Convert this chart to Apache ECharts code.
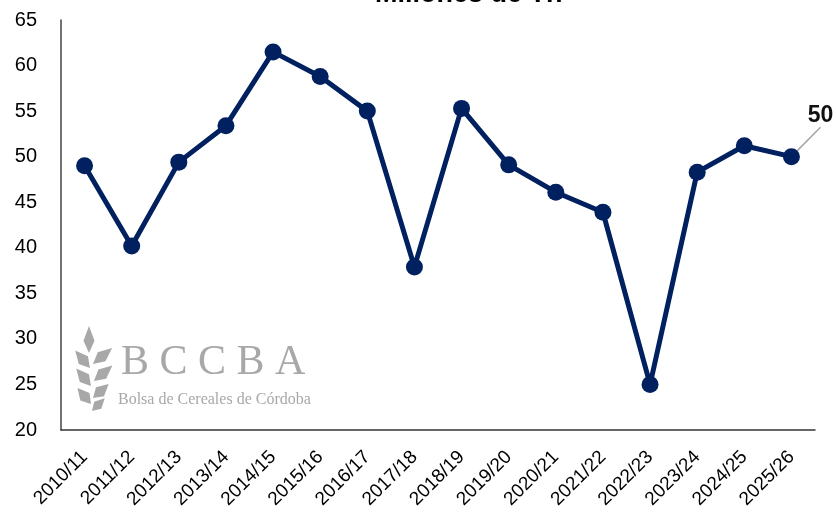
<!DOCTYPE html>
<html>
<head>
<meta charset="utf-8">
<script src="https://cdn.jsdelivr.net/npm/echarts@6/dist/echarts.min.js"></script>
<style>html,body{margin:0;padding:0;background:#fff}#c{width:836px;height:514px}</style>
</head>
<body>
<div id="c"></div>
<script>
const categories = ["2010/11","2011/12","2012/13","2013/14","2014/15","2015/16","2016/17","2017/18","2018/19","2019/20","2020/21","2021/22","2022/23","2023/24","2024/25","2025/26"];
const production = [49.0, 40.2, 49.4, 53.4, 61.5, 58.8, 55.0, 37.9, 55.3, 49.1, 46.1, 43.9, 25.0, 48.3, 51.2, 50.0];
const titleText = "Millones de Tn";
const yMin = 20, yMax = 65, yStep = 5;

const lineColor = '#002060';
const last = production.length - 1;
const seriesData = production.map((v, i) => i === last ? {
  value: v,
  label: {
    show: true, position: 'top', formatter: '{c}',
    fontSize: 23, fontWeight: 'bold', color: '#111', fontFamily: 'Liberation Sans, Arial, sans-serif'
  },
  labelLine: { show: true, lineStyle: { color: '#a6a6a6', width: 1.5 } }
} : v);

const grey = '#a8a8a8';
function leaf(cx, cy, deg, len, w) {
  return {
    type: 'polygon', x: cx, y: cy, rotation: deg * Math.PI / 180,
    shape: { points: [[0, 0], [len * 0.45, -w], [len, 0], [len * 0.45, w]] },
    style: { fill: grey }, silent: true, z: -1
  };
}
const leaves = [
  leaf(89, 353, 90, 27, 5.5),
  leaf(90, 368, 130, 23, 6),
  leaf(91, 386, 130, 23, 6),
  leaf(91, 404, 130, 21, 6),
  leaf(93, 364, 40, 25, 6),
  leaf(94, 381, 40, 24, 6),
  leaf(93, 398, 42, 21, 6),
  leaf(92, 411, 45, 18, 5)
];

const chart = echarts.init(document.getElementById('c'));
chart.setOption({
  animation: false,
  title: {
    text: titleText, left: 370, top: -24,
    textStyle: { fontSize: 27, fontWeight: 'bold', color: '#000', fontFamily: 'Liberation Sans, Arial, sans-serif' }
  },
  grid: { left: 61, right: 21, top: 20, bottom: 84, containLabel: false },
  xAxis: {
    type: 'category', data: categories, boundaryGap: true,
    axisLine: { lineStyle: { color: '#333', width: 1.5 } },
    axisTick: { show: false },
    axisLabel: { rotate: 45, margin: 24, fontSize: 19, color: '#000', fontFamily: 'Liberation Sans, Arial, sans-serif', interval: 0 }
  },
  yAxis: {
    type: 'value', min: yMin, max: yMax, interval: yStep,
    axisLine: { show: true, lineStyle: { color: '#444', width: 1.5 } },
    axisTick: { show: false },
    splitLine: { show: false },
    axisLabel: { margin: 24, fontSize: 20, color: '#000', fontFamily: 'Liberation Sans, Arial, sans-serif' }
  },
  graphic: [
    ...leaves,
    { type: 'text', left: 121, top: 342, silent: true, z: -1,
      style: { text: 'B C C B A', fill: grey, font: '42px "Liberation Serif", "DejaVu Serif", serif' } },
    { type: 'text', left: 118, top: 392, silent: true, z: -1,
      style: { text: 'Bolsa de Cereales de Córdoba', fill: grey, font: '16px "Liberation Serif", "DejaVu Serif", serif' } }
  ],
  series: [{
    type: 'line', data: seriesData,
    lineStyle: { color: lineColor, width: 5 },
    itemStyle: { color: lineColor },
    symbol: 'circle', symbolSize: 17,
    labelLayout: { dx: 29, dy: -16 },
    z: 3
  }]
});
</script>
</body>
</html>
